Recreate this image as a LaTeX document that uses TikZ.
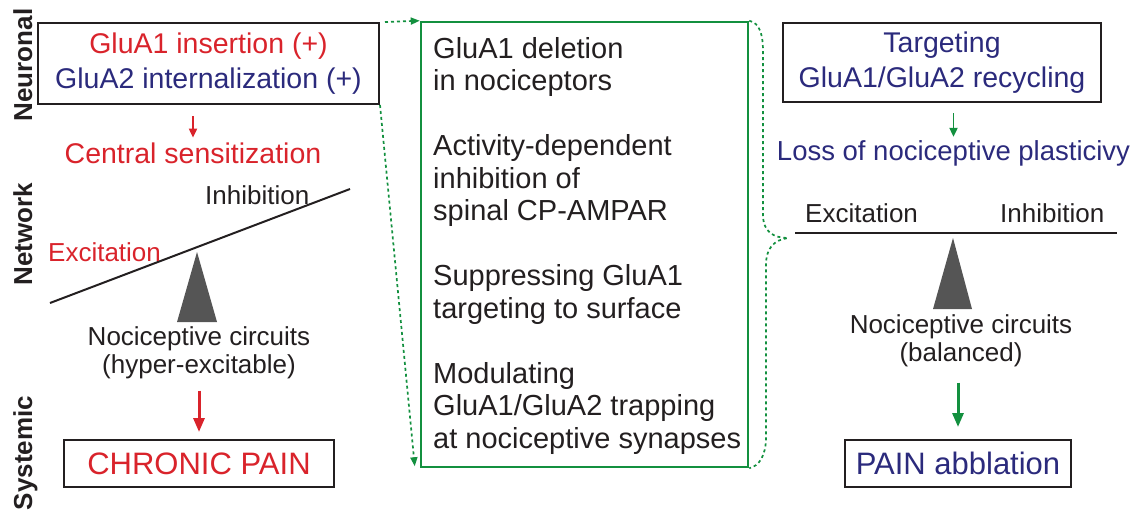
\documentclass[tikz,border=0pt]{standalone}
\usepackage{fontspec}
\setmainfont{Liberation Sans}
\usetikzlibrary{arrows.meta}
\definecolor{cred}{HTML}{D9232B}
\definecolor{cblue}{HTML}{2B2A7C}
\definecolor{cgreen}{HTML}{13903F}
\definecolor{cgray}{HTML}{555555}
\definecolor{ctext}{HTML}{231F20}
\tikzset{
  box/.style={draw=ctext, line width=2pt, inner sep=0pt, rectangle},
  txt/.style={font=\fontsize{28.5}{35}\selectfont, inner sep=0pt, align=center, text=ctext},
  smalltxt/.style={font=\fontsize{26}{28.5}\selectfont, inner sep=0pt, align=center, text=ctext},
  sidelabel/.style={font=\fontsize{26}{26}\bfseries\selectfont, rotate=90, inner sep=0pt, anchor=base, text=ctext},
  thinarrow/.style={line width=1.8pt, -{Triangle[length=9pt,width=8pt]}},
  thickarrow/.style={line width=3pt, -{Triangle[length=14pt,width=11pt]}},
  dotg/.style={cgreen, line width=1.7pt, dash pattern=on 3pt off 3pt},
  dotgarrow/.style={dotg, -{Triangle[length=9pt,width=7pt]}},
}
\begin{document}
\begin{tikzpicture}[x=1pt,y=-1pt]
\useasboundingbox (0,0) rectangle (1142,514);

% side labels
\node[sidelabel] (lneur) at (32,65) {Neuronal};
\node[sidelabel] (lnet) at (32,234) {Network};
\node[sidelabel] (lsys) at (32,453) {Systemic};

% ---------- left column ----------
\node[box, txt, minimum width=341, minimum height=81] (lbox) at (208.5,63.5)
  {\textcolor{cred}{GluA1 insertion (+)}\\\textcolor{cblue}{GluA2 internalization (+)}};
\node[txt, text=cred, anchor=base] (cs) at (193,163) {Central sensitization};
\draw[cred, thinarrow, shorten <=11pt, shorten >=4.5pt] (cs.north |- lbox.south) -- (cs.north);

\draw[ctext, line width=2pt] (50,303) -- (350,189);
\node[smalltxt, anchor=base west] (inh) at (205,204) {Inhibition};
\node[smalltxt, text=cred, anchor=base west] (exc) at (48,261) {Excitation};
\fill[cgray] (197,252) -- (217,322) -- (177,322) -- cycle;
\node[smalltxt, anchor=north] (ncl) at (199,326.4) {Nociceptive circuits\\(hyper-excitable)};

\node[box, minimum width=270, minimum height=47] (chronic) at (199,463.5)
  {\fontsize{31}{35}\selectfont\textcolor{cred}{CHRONIC PAIN}};
\draw[cred, thickarrow, shorten <=11pt, shorten >=7pt] (ncl.south -| chronic.north) -- (chronic.north);

% ---------- middle column ----------
\node[draw=cgreen, line width=2.5pt, minimum width=327, minimum height=445, inner sep=0pt] (mid) at (584.5,244.5) {};
\node[font=\fontsize{29}{32.5}\selectfont, text=ctext, align=left, anchor=north west, inner sep=0pt] (midtext) at (433,37)
  {GluA1 deletion\\in nociceptors\\[32.5pt]Activity-dependent\\inhibition of\\spinal CP-AMPAR\\[32.5pt]Suppressing GluA1\\targeting to surface\\[32.5pt]Modulating\\GluA1/GluA2 trapping\\at nociceptive synapses};

\draw[dotgarrow] ([xshift=5pt]lbox.north east) -- (mid.north west);
\draw[dotgarrow] (lbox.south east) -- ([xshift=-5pt,yshift=2pt]mid.south west);

\coordinate (btip) at (788,238);
\draw[dotg] (mid.north east) .. controls (760,23) and (763,35) .. (763,52) -- (763,215)
  .. controls (763,232) and (774,238) .. (btip)
  .. controls (774,240) and (766,248) .. (766,265) -- (766,437)
  .. controls (766,456) and (759,466) .. (mid.south east);

% ---------- right column ----------
\node[box, txt, text=cblue, minimum width=318, minimum height=79] (rbox) at (942,62.5)
  {Targeting\\GluA1/GluA2 recycling};
\node[font=\fontsize{27.5}{32}\selectfont, text=cblue, inner sep=0pt, anchor=base] (loss) at (953.5,160) {Loss of nociceptive plasticivy};
\draw[cgreen, thinarrow, shorten <=10pt, shorten >=3pt] (loss.north |- rbox.south) -- (loss.north);

\draw[ctext, line width=2pt] (795,233) -- (1117,233);
\node[smalltxt, anchor=base west] (exr) at (805,222) {Excitation};
\node[smalltxt, anchor=base west] (inr) at (1000,222) {Inhibition};
\fill[cgray] (953,238) -- (972,309) -- (933,309) -- cycle;
\node[smalltxt, anchor=north] (ncr) at (961,314.4) {Nociceptive circuits\\(balanced)};

\node[box, minimum width=226, minimum height=47] (painab) at (958,463.5)
  {\fontsize{31}{35}\selectfont\textcolor{cblue}{PAIN abblation}};
\draw[cgreen, thickarrow, shorten <=15pt, shorten >=12pt] (ncr.south -| painab.north) -- (painab.north);
\end{tikzpicture}
\end{document}
